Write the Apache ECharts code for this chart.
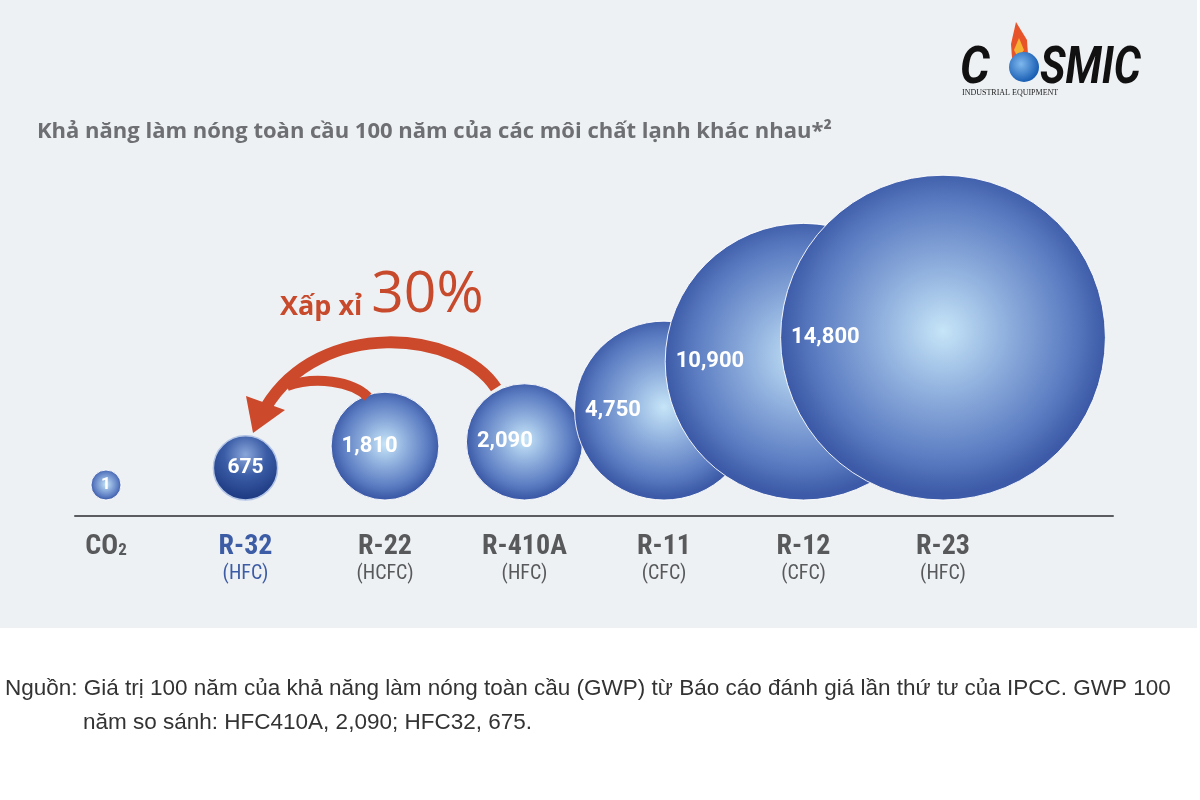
<!DOCTYPE html>
<html>
<head>
<meta charset="utf-8">
<script src="https://cdn.jsdelivr.net/npm/echarts@6/dist/echarts.min.js"></script>
<style>html,body{margin:0;padding:0;background:#fff}#c{width:1200px;height:800px}</style>
</head>
<body>
<div id="c"></div>
<script>
// ---- data ----
const categories = ['CO₂', 'R-32', 'R-22', 'R-410A', 'R-11', 'R-12', 'R-23'];
const classes = ['', '(HFC)', '(HCFC)', '(HFC)', '(CFC)', '(CFC)', '(HFC)'];
const gwp = [1, 675, 1810, 2090, 4750, 10900, 14800];
const highlighted = 'R-32';
const titleText = 'Khả năng làm nóng toàn cầu 100 năm của các môi chất lạnh khác nhau*²';
const calloutWord = 'Xấp xỉ';
const calloutValue = '30%';
const sourceLine1 = 'Nguồn: Giá trị 100 năm của khả năng làm nóng toàn cầu (GWP) từ Báo cáo đánh giá lần thứ tư của IPCC. GWP 100';
const sourceLine2 = 'năm so sánh: HFC410A, 2,090; HFC32, 675.';

// ---- styling helpers ----
const CONDENSED = '"Liberation Sans Narrow", "Roboto Condensed", Roboto, sans-serif';
const bubbleFill = {
  type: 'radial', x: 0.5, y: 0.48, r: 0.5,
  colorStops: [
    { offset: 0, color: '#c6e5f8' },
    { offset: 0.4, color: '#8eaedd' },
    { offset: 0.78, color: '#5c7dc2' },
    { offset: 1, color: '#3c5aa7' }
  ]
};
const darkFill = {
  type: 'radial', x: 0.5, y: 0.3, r: 0.65,
  colorStops: [
    { offset: 0, color: '#8aa6da' },
    { offset: 0.5, color: '#3a5ca6' },
    { offset: 1, color: '#1f3c84' }
  ]
};
function diam(v) { return Math.max(30, 2.1 * Math.pow(v, 0.525)); }

const bubbleData = gwp.map((v, i) => {
  const d = diam(v);
  const hl = categories[i] === highlighted;
  return {
    value: [i, 0],
    symbolSize: d,
    symbolOffset: [0, -(d / 2 + 16)],
    itemStyle: hl
      ? { color: darkFill, borderColor: '#b3c5e6', borderWidth: 1.5, opacity: 1 }
      : { color: bubbleFill, borderColor: 'rgba(255,255,255,0.9)', borderWidth: 1, opacity: 1 },
    label: {
      show: true,
      formatter: v.toLocaleString('en-US'),
      position: d >= 90 ? 'insideLeft' : 'inside',
      distance: 11,
      color: '#fff',
      fontFamily: 'Roboto',
      fontWeight: 'bold',
      fontSize: d >= 90 ? 22 : (d > 40 ? 21 : 17)
    }
  };
});

const chart = echarts.init(document.getElementById('c'), null, { renderer: 'canvas' });
chart.setOption({
  backgroundColor: '#ffffff',
  animation: false,
  title: [
    { text: titleText, left: 32, top: 116, padding: 5, textStyle: { fontFamily: 'Open Sans', fontWeight: 'bold', fontSize: 22, color: '#6d6f72' } },
    { text: '{a|' + calloutWord + '} {b|' + calloutValue + '}', left: 275, top: 262,
      textStyle: { rich: {
        a: { fontFamily: 'Open Sans', fontWeight: 'bold', fontSize: 27, color: '#c84a2c', verticalAlign: 'bottom', padding: [0, 0, 3, 0] },
        b: { fontFamily: 'Open Sans', fontWeight: 'normal', fontSize: 57, color: '#c84a2c', verticalAlign: 'bottom', padding: [0, 0, 0, 4] }
      } } },
    { text: sourceLine1, left: 0, top: 672, textStyle: { fontFamily: 'Liberation Sans', fontWeight: 'normal', fontSize: 22.5, color: '#333' } },
    { text: sourceLine2, left: 78, top: 706, textStyle: { fontFamily: 'Liberation Sans', fontWeight: 'normal', fontSize: 22.5, color: '#333' } }
  ],
  grid: [
    { left: 75, right: 87, top: 100, bottom: 284 },
    { left: 106, right: 257, top: 100, bottom: 284 }
  ],
  xAxis: [
    { type: 'value', gridIndex: 0, min: -0.2222, max: 7.2186,
      axisLine: { show: true, lineStyle: { color: '#5a5c5f', width: 2 } },
      axisTick: { show: false }, axisLabel: { show: false }, splitLine: { show: false } },
    { type: 'category', gridIndex: 1, data: categories, boundaryGap: false,
      axisLine: { show: false }, axisTick: { show: false }, splitLine: { show: false },
      axisLabel: {
        interval: 0, margin: 16,
        formatter: function (name) {
          const i = categories.indexOf(name);
          const hl = name === highlighted;
          let head;
          if (name.indexOf('₂') >= 0) head = '{n|' + name.replace('₂', '') + '}{s|2}';
          else head = '{' + (hl ? 'hn' : 'n') + '|' + name + '}';
          return classes[i] ? head + '\n{' + (hl ? 'hc' : 'c') + '|' + classes[i] + '}' : head;
        },
        rich: {
          n: { fontFamily: CONDENSED, fontWeight: 'bold', fontSize: 28, lineHeight: 30, color: '#58595b' },
          hn: { fontFamily: CONDENSED, fontWeight: 'bold', fontSize: 28, lineHeight: 30, color: '#3d5ca6' },
          s: { fontFamily: CONDENSED, fontWeight: 'bold', fontSize: 17, lineHeight: 30, color: '#58595b', verticalAlign: 'bottom', padding: [0, 0, 3, 0] },
          c: { fontFamily: CONDENSED, fontSize: 20, lineHeight: 24, color: '#58595b' },
          hc: { fontFamily: CONDENSED, fontSize: 20, lineHeight: 24, color: '#3d5ca6' }
        }
      } }
  ],
  yAxis: [
    { type: 'value', gridIndex: 0, min: 0, max: 1, show: false },
    { type: 'value', gridIndex: 1, min: 0, max: 1, show: false }
  ],
  series: [{
    type: 'scatter', xAxisIndex: 0, yAxisIndex: 0, symbol: 'circle',
    data: bubbleData, z: 5
  }],
  graphic: [
    { type: 'rect', z: -10, silent: true, shape: { x: 0, y: 0, width: 1197, height: 628 }, style: { fill: '#eef1f4' } },
    // arrows
    { type: 'bezierCurve', z: 10, shape: { x1: 496, y1: 388, cpx1: 458, cpy1: 330, cpx2: 320, cpy2: 318, x2: 266, y2: 407 },
      style: { stroke: '#cc4a2b', lineWidth: 12, fill: null } },
    { type: 'bezierCurve', z: 10, shape: { x1: 368, y1: 397, cpx1: 352, cpy1: 381, cpx2: 315, cpy2: 376, x2: 287, y2: 386 },
      style: { stroke: '#cc4a2b', lineWidth: 10, fill: null } },
    { type: 'polygon', z: 10, shape: { points: [[246, 396], [285, 410], [253, 433]] }, style: { fill: '#cc4a2b' } },
    // logo
    { type: 'group', z: 20, children: [
      { type: 'text', scaleX: 0.9, originX: 960, style: { x: 960, y: 44, text: 'C', font: 'italic bold 52px Roboto', fill: '#111' } },
      { type: 'polygon', shape: { points: [[1016, 22], [1027, 40], [1028, 55], [1012, 58], [1011, 44]] }, style: { fill: '#e8542a' } },
      { type: 'polygon', shape: { points: [[1019, 38], [1024, 50], [1018, 58], [1014, 50]] }, style: { fill: '#f6b233' } },
      { type: 'circle', shape: { cx: 1024, cy: 67, r: 15 }, style: { fill: { type: 'radial', x: 0.4, y: 0.4, r: 0.6, colorStops: [{ offset: 0, color: '#7fb8ee' }, { offset: 1, color: '#1a5fb4' }] } } },
      { type: 'text', scaleX: 0.82, originX: 1040, style: { x: 1040, y: 44, text: 'SMIC', font: 'italic bold 52px Roboto', fill: '#111' } },
      { type: 'text', style: { x: 962, y: 89, text: 'INDUSTRIAL EQUIPMENT', font: '8px "Liberation Serif"', fill: '#222' } }
    ] }
  ]
});
</script>
</body>
</html>
